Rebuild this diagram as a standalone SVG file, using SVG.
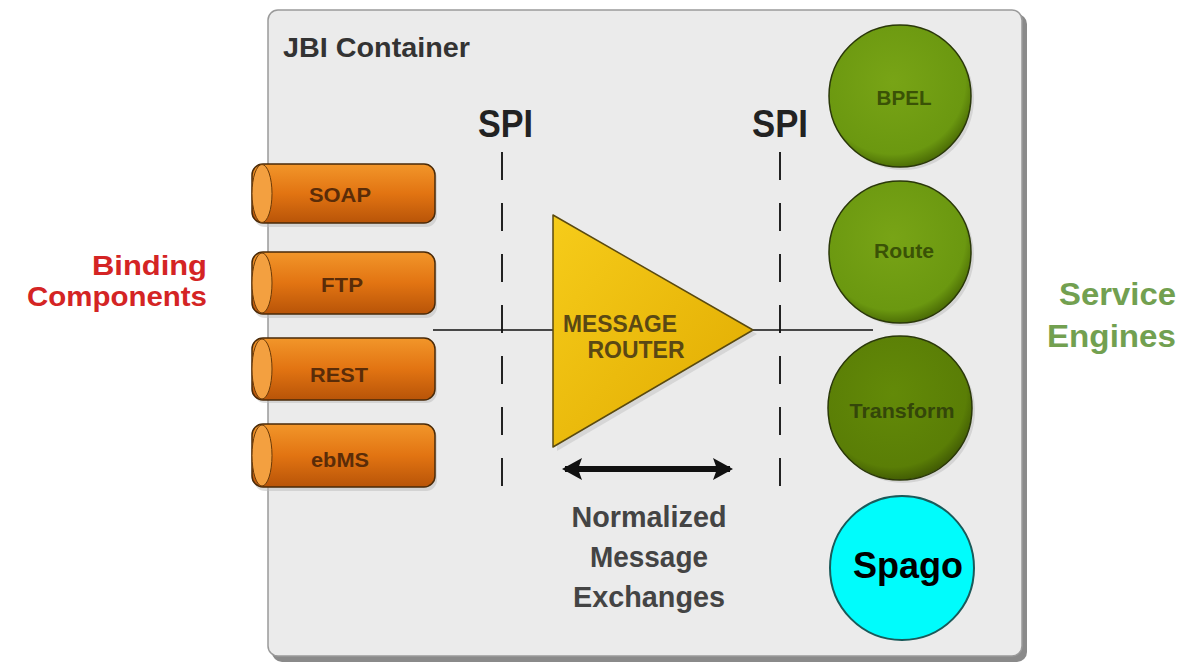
<svg xmlns="http://www.w3.org/2000/svg" width="1180" height="664" viewBox="0 0 1180 664">
<style>
.t{font-family:"Liberation Sans",Arial,sans-serif;font-weight:bold}
.cyl{stroke:#4a2a08;stroke-width:1.5;fill:url(#gOr)}
.cap{fill:#f3a040;stroke:#6a3a08;stroke-width:1}
.ct{fill:#5a2c08;font-size:21px;text-anchor:middle}
.ball{fill:url(#gGr);stroke:#2a3808;stroke-width:1.5}
.bt{fill:#3a5206;font-size:20px;text-anchor:middle}
.spi{fill:#222;font-size:38px}
.dash{stroke:#222;stroke-width:2;stroke-dasharray:28 23}
.ln{stroke:#111;stroke-width:1.5}
.big{fill:#444;font-size:30px;text-anchor:middle}
</style>
<defs>
<linearGradient id="gOr" x1="0" y1="0" x2="0" y2="1">
<stop offset="0" stop-color="#f2962a"/><stop offset="0.5" stop-color="#e27412"/><stop offset="1" stop-color="#b85408"/>
</linearGradient>
<radialGradient id="gGr" cx="0.45" cy="0.4" r="0.6">
<stop offset="0" stop-color="#78a416"/><stop offset="0.85" stop-color="#6b9810"/><stop offset="1" stop-color="#4e7006"/>
</radialGradient>
<radialGradient id="gGr2" cx="0.45" cy="0.4" r="0.6">
<stop offset="0" stop-color="#638a08"/><stop offset="0.85" stop-color="#5a7e06"/><stop offset="1" stop-color="#435e04"/>
</radialGradient>
<linearGradient id="gY" x1="0" y1="0" x2="1" y2="1">
<stop offset="0" stop-color="#f6cc1a"/><stop offset="1" stop-color="#e0aa00"/>
</linearGradient>
<marker id="ah" viewBox="0 0 20 22" refX="17" refY="11" markerWidth="20" markerHeight="22" orient="auto-start-reverse" markerUnits="userSpaceOnUse">
<path d="M0,0 L20,11 L0,22 L4,11 z" fill="#111"/>
</marker>
</defs>
<rect width="1180" height="664" fill="#fff"/>

<g id="container">
<rect x="272" y="14" width="755" height="648" rx="10" fill="#8a8a8a"/>
<rect x="268" y="10" width="754" height="646" rx="10" fill="#ebebeb" stroke="#9a9a9a" stroke-width="1.5"/>
<text class="t" x="283" y="57" font-size="27" fill="#333" textLength="187" lengthAdjust="spacingAndGlyphs">JBI Container</text>
</g>

<g id="spi-labels">
<text class="t spi" x="478" y="137" textLength="55" lengthAdjust="spacingAndGlyphs">SPI</text>
<text class="t spi" x="752" y="137" textLength="56" lengthAdjust="spacingAndGlyphs">SPI</text>
</g>

<g id="connectors">
<line class="dash" x1="502" y1="152" x2="502" y2="486"/>
<line class="dash" x1="780" y1="152" x2="780" y2="486"/>
<line class="ln" x1="433" y1="330" x2="556" y2="330"/>
<line class="ln" x1="750" y1="330" x2="873" y2="330"/>
<line x1="565" y1="469" x2="730" y2="469" stroke="#111" stroke-width="6" marker-start="url(#ah)" marker-end="url(#ah)"/>
</g>

<g id="binding-components">
<text class="t" x="207" y="275" font-size="28" fill="#d42424" text-anchor="end" textLength="115" lengthAdjust="spacingAndGlyphs">Binding</text>
<text class="t" x="207" y="306" font-size="28" fill="#d42424" text-anchor="end" textLength="180" lengthAdjust="spacingAndGlyphs">Components</text>
</g>

<g id="soap">
<rect x="254" y="167" width="183" height="60" rx="11" fill="#bbb" opacity="0.5"/>
<rect class="cyl" x="252" y="164" width="183" height="59" rx="11"/>
<ellipse class="cap" cx="262" cy="193.5" rx="10" ry="29"/>
<text class="t ct" x="340" y="202" textLength="62" lengthAdjust="spacingAndGlyphs">SOAP</text>
</g>
<g id="ftp">
<rect x="254" y="255" width="183" height="63" rx="11" fill="#bbb" opacity="0.5"/>
<rect class="cyl" x="252" y="252" width="183" height="62" rx="11"/>
<ellipse class="cap" cx="262" cy="283" rx="10" ry="30"/>
<text class="t ct" x="342" y="292" textLength="42" lengthAdjust="spacingAndGlyphs">FTP</text>
</g>
<g id="rest">
<rect x="254" y="341" width="183" height="62" rx="11" fill="#bbb" opacity="0.5"/>
<rect class="cyl" x="252" y="338" width="183" height="62" rx="11"/>
<ellipse class="cap" cx="262" cy="369" rx="10" ry="30"/>
<text class="t ct" x="339" y="382" textLength="58" lengthAdjust="spacingAndGlyphs">REST</text>
</g>
<g id="ebms">
<rect x="254" y="427" width="183" height="64" rx="11" fill="#bbb" opacity="0.5"/>
<rect class="cyl" x="252" y="424" width="183" height="63" rx="11"/>
<ellipse class="cap" cx="262" cy="455.5" rx="10" ry="30.5"/>
<text class="t ct" x="340" y="467" textLength="58" lengthAdjust="spacingAndGlyphs">ebMS</text>
</g>

<g id="message-router">
<polygon points="557,219 757,334 557,451" fill="#c8c8c8" opacity="0.6"/>
<polygon points="553,215 753,330 553,447" fill="url(#gY)" stroke="#5a4a10" stroke-width="1.5" stroke-linejoin="round"/>
<text class="t" x="620" y="332" font-size="23" fill="#5a4814" text-anchor="middle" textLength="114" lengthAdjust="spacingAndGlyphs">MESSAGE</text>
<text class="t" x="636" y="358" font-size="23" fill="#5a4814" text-anchor="middle" textLength="97" lengthAdjust="spacingAndGlyphs">ROUTER</text>
</g>

<g id="nme-label">
<text class="t big" x="649" y="527" textLength="155" lengthAdjust="spacingAndGlyphs">Normalized</text>
<text class="t big" x="649" y="567" textLength="118" lengthAdjust="spacingAndGlyphs">Message</text>
<text class="t big" x="649" y="607" textLength="152" lengthAdjust="spacingAndGlyphs">Exchanges</text>
</g>

<g id="bpel">
<circle cx="903" cy="99" r="71" fill="#c4c4c4" opacity="0.6"/>
<circle class="ball" cx="900" cy="96" r="71"/>
<text class="t bt" x="904" y="105" textLength="55" lengthAdjust="spacingAndGlyphs">BPEL</text>
</g>
<g id="route">
<circle cx="903" cy="255" r="71" fill="#c4c4c4" opacity="0.6"/>
<circle class="ball" cx="900" cy="252" r="71"/>
<text class="t bt" x="904" y="258" textLength="60" lengthAdjust="spacingAndGlyphs">Route</text>
</g>
<g id="transform">
<circle cx="903" cy="411" r="72" fill="#c4c4c4" opacity="0.6"/>
<circle cx="900" cy="408" r="72" fill="url(#gGr2)" stroke="#2a3808" stroke-width="1.5"/>
<text class="t" x="902" y="418" font-size="20" fill="#34460a" text-anchor="middle" textLength="105" lengthAdjust="spacingAndGlyphs">Transform</text>
</g>
<g id="spago">
<circle cx="902" cy="568" r="72" fill="#00fcfc" stroke="#1a5a5a" stroke-width="2"/>
<text class="t" x="908" y="578" font-size="36" fill="#000" text-anchor="middle">Spago</text>
</g>

<g id="service-engines">
<text class="t" x="1176" y="305" font-size="31" fill="#72a050" text-anchor="end" textLength="117" lengthAdjust="spacingAndGlyphs">Service</text>
<text class="t" x="1176" y="347" font-size="31" fill="#72a050" text-anchor="end" textLength="129" lengthAdjust="spacingAndGlyphs">Engines</text>
</g>
</svg>
